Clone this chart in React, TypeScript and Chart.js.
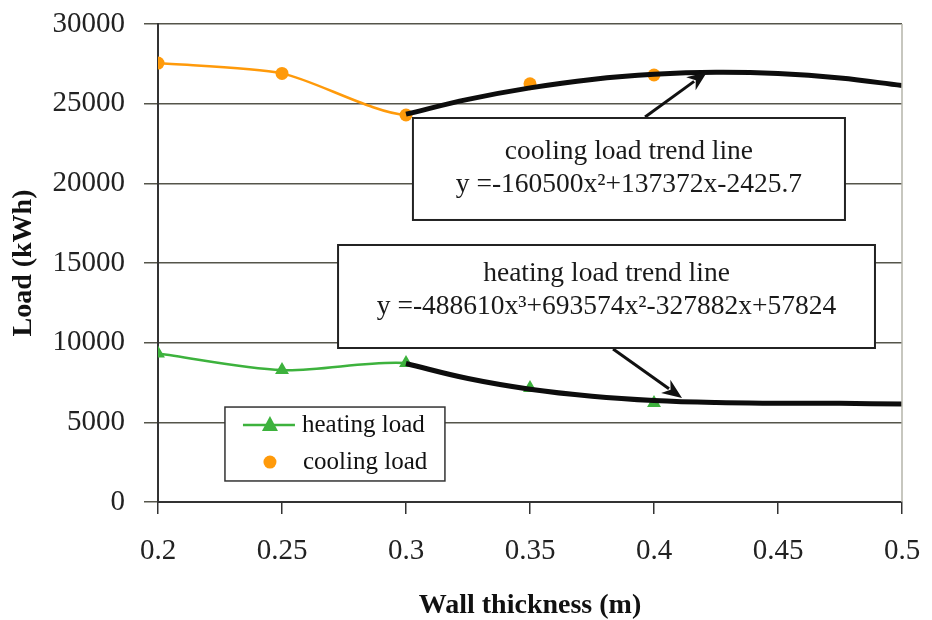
import React, { useEffect, useRef } from "react";
import { Chart, registerables } from "chart.js";

Chart.register(...registerables);

// ---- data ----
const thickness = [0.2, 0.25, 0.3, 0.35, 0.4];
const heatingLoad = [9320, 8280, 8720, 7150, 6220];
const coolingLoad = [27550, 26900, 24290, 26250, 26800];

const trendX = [0.3, 0.325, 0.35, 0.375, 0.4, 0.425, 0.45, 0.475, 0.5];
const coolingTrend = [24340, 25270, 25990, 26520, 26840, 26970, 26890, 26610, 26140];
const heatingTrend = [8690, 7750, 7080, 6640, 6370, 6240, 6200, 6190, 6150];

const xTicks = [0.2, 0.25, 0.3, 0.35, 0.4, 0.45, 0.5];
const yTicks = [0, 5000, 10000, 15000, 20000, 25000, 30000];

const legendLabels = ["heating load", "cooling load"];
const coolingNote = ["cooling load trend line", "y =-160500x²+137372x-2425.7"];
const heatingNote = ["heating load trend line", "y =-488610x³+693574x²-327882x+57824"];

const xTitle = "Wall thickness (m)";
const yTitle = "Load (kWh)";
// data lines are only visible up to this thickness (beyond it the trend line covers them)
const lineEnd = 0.3;

const ORANGE = "#FF9A0A";
const GREEN = "#3DB23D";
const FONT = '"Liberation Serif", "Times New Roman", serif';

function drawArrow(ctx: CanvasRenderingContext2D, x1: number, y1: number, x2: number, y2: number) {
  const ang = Math.atan2(y2 - y1, x2 - x1);
  const headLen = 20;
  const headW = 8;
  const bx = x2 - headLen * Math.cos(ang);
  const by = y2 - headLen * Math.sin(ang);
  ctx.save();
  ctx.strokeStyle = "#111";
  ctx.fillStyle = "#111";
  ctx.lineWidth = 3;
  ctx.beginPath();
  ctx.moveTo(x1, y1);
  ctx.lineTo(bx + 4 * Math.cos(ang), by + 4 * Math.sin(ang));
  ctx.stroke();
  ctx.beginPath();
  ctx.moveTo(x2, y2);
  ctx.lineTo(bx + headW * Math.sin(ang), by - headW * Math.cos(ang));
  ctx.lineTo(bx + 6 * Math.cos(ang), by + 6 * Math.sin(ang));
  ctx.lineTo(bx - headW * Math.sin(ang), by + headW * Math.cos(ang));
  ctx.closePath();
  ctx.fill();
  ctx.restore();
}

function drawNote(
  ctx: CanvasRenderingContext2D,
  left: number, top: number, right: number, bottom: number,
  lines: string[], y1: number, y2: number
) {
  ctx.save();
  ctx.fillStyle = "#fff";
  ctx.fillRect(left, top, right - left, bottom - top);
  ctx.strokeStyle = "#222";
  ctx.lineWidth = 2;
  ctx.strokeRect(left, top, right - left, bottom - top);
  ctx.fillStyle = "#1a1a1a";
  ctx.font = `27.5px ${FONT}`;
  ctx.textAlign = "center";
  ctx.textBaseline = "middle";
  const cx = (left + right) / 2;
  ctx.fillText(lines[0], cx, y1);
  ctx.fillText(lines[1], cx, y2);
  ctx.restore();
}

const overlayPlugin = {
  id: "overlay",
  afterDraw(chart: any) {
    const { ctx, chartArea, scales } = chart;
    const x = scales.x;
    const y = scales.y;
    const px = (v: number) => x.getPixelForValue(v);
    const py = (v: number) => y.getPixelForValue(v);

    // plot-area right border
    ctx.save();
    ctx.strokeStyle = "#b5b5aa";
    ctx.lineWidth = 1.5;
    ctx.beginPath();
    ctx.moveTo(chartArea.right, chartArea.top);
    ctx.lineTo(chartArea.right, chartArea.bottom);
    ctx.stroke();
    ctx.restore();

    // cooling note + arrow
    drawArrow(ctx, px(0.3964), py(24160), px(0.4214), py(26990));
    drawNote(ctx, px(0.3028), py(24100), px(0.477), py(17700), coolingNote, py(22000), py(19930));

    // heating note + arrow
    drawArrow(ctx, px(0.3835), py(9600), px(0.4113), py(6530));
    drawNote(ctx, px(0.2726), py(16130), px(0.4891), py(9665), heatingNote, py(14300), py(12230));

    // legend
    const lx = px(0.227);
    const ly = py(5960);
    const lr = px(0.3157);
    const lb = py(1320);
    ctx.save();
    ctx.fillStyle = "#fff";
    ctx.fillRect(lx, ly, lr - lx, lb - ly);
    ctx.strokeStyle = "#333";
    ctx.lineWidth = 1.5;
    ctx.strokeRect(lx, ly, lr - lx, lb - ly);

    const r1 = ly + 18;
    const r2 = ly + 55;
    ctx.strokeStyle = GREEN;
    ctx.lineWidth = 2.5;
    ctx.beginPath();
    ctx.moveTo(lx + 18, r1);
    ctx.lineTo(lx + 70, r1);
    ctx.stroke();
    ctx.fillStyle = GREEN;
    ctx.beginPath();
    ctx.moveTo(lx + 45, r1 - 9);
    ctx.lineTo(lx + 53, r1 + 6);
    ctx.lineTo(lx + 37, r1 + 6);
    ctx.closePath();
    ctx.fill();
    ctx.fillStyle = ORANGE;
    ctx.beginPath();
    ctx.arc(lx + 45, r2, 6.5, 0, Math.PI * 2);
    ctx.fill();

    ctx.fillStyle = "#111";
    ctx.font = `25px ${FONT}`;
    ctx.textAlign = "left";
    ctx.textBaseline = "middle";
    ctx.fillText(legendLabels[0], lx + 77, r1);
    ctx.fillText(legendLabels[1], lx + 78, r2);
    ctx.restore();
  },
};

export default function App() {
  const ref = useRef<HTMLCanvasElement | null>(null);

  useEffect(() => {
    if (!ref.current) return;
    const chart = new Chart(ref.current, {
      type: "line",
      data: {
        datasets: [
          {
            label: "cooling trend",
            data: trendX.map((v, i) => ({ x: v, y: coolingTrend[i] })),
            borderColor: "#0d0d0d",
            borderWidth: 5,
            pointRadius: 0,
            tension: 0.4,
            fill: false,
          },
          {
            label: "heating trend",
            data: trendX.map((v, i) => ({ x: v, y: heatingTrend[i] })),
            borderColor: "#0d0d0d",
            borderWidth: 5,
            pointRadius: 0,
            tension: 0.4,
            fill: false,
          },
          {
            label: legendLabels[0],
            data: thickness.map((v, i) => ({ x: v, y: heatingLoad[i] })),
            borderColor: GREEN,
            backgroundColor: GREEN,
            borderWidth: 2.5,
            pointStyle: "triangle",
            pointRadius: 8,
            pointBorderWidth: 0,
            tension: 0.3,
            fill: false,
            segment: {
              borderColor: (c: any) => (c.p0.parsed.x >= lineEnd ? "rgba(0,0,0,0)" : GREEN),
            },
          },
          {
            label: legendLabels[1],
            data: thickness.map((v, i) => ({ x: v, y: coolingLoad[i] })),
            borderColor: ORANGE,
            backgroundColor: ORANGE,
            borderWidth: 2.5,
            pointStyle: "circle",
            pointRadius: 6.5,
            pointBorderWidth: 0,
            tension: 0.25,
            fill: false,
            segment: {
              borderColor: (c: any) => (c.p0.parsed.x >= lineEnd ? "rgba(0,0,0,0)" : ORANGE),
            },
          },
        ],
      },
      options: {
        responsive: false,
        animation: false,
        layout: { padding: { top: 24, right: 30, bottom: 0, left: 0 } },
        plugins: { legend: { display: false }, tooltip: { enabled: false } },
        scales: {
          x: {
            type: "linear",
            min: 0.2,
            max: 0.5,
            afterBuildTicks: (s: any) => {
              s.ticks = xTicks.map((v) => ({ value: v }));
            },
            afterFit: (s: any) => {
              s.height = 118;
              s.paddingLeft = 0;
              s.paddingRight = 0;
            },
            grid: {
              drawOnChartArea: false,
              drawTicks: true,
              tickLength: 12,
              color: "#333",
              lineWidth: 1.5,
            },
            border: { display: true, color: "#333", width: 2 },
            ticks: {
              font: { family: FONT, size: 29 },
              color: "#222",
              padding: 20,
              maxRotation: 0,
              autoSkip: false,
              callback: (v: any) => String(v),
            },
            title: {
              display: true,
              text: xTitle,
              font: { family: FONT, size: 28, weight: "bold", lineHeight: 1.0 },
              color: "#111",
              padding: { top: 0, bottom: 0 },
            },
          },
          y: {
            min: 0,
            max: 30000,
            afterBuildTicks: (s: any) => {
              s.ticks = yTicks.map((v) => ({ value: v }));
            },
            afterFit: (s: any) => {
              s.width = 158;
              s.paddingTop = 0;
              s.paddingBottom = 0;
            },
            grid: {
              color: "#55554a",
              lineWidth: 1.5,
              tickLength: 14,
            },
            border: { display: true, color: "#333", width: 2 },
            ticks: {
              font: { family: FONT, size: 29 },
              color: "#222",
              padding: 19,
              callback: (v: any) => String(v),
            },
            title: {
              display: true,
              text: yTitle,
              font: { family: FONT, size: 28, weight: "bold" },
              color: "#111",
              padding: { top: 7, bottom: 0 },
            },
          },
        },
      },
      plugins: [overlayPlugin],
    } as any);
    return () => chart.destroy();
  }, []);

  return (
    <div style={{ position: "fixed", left: 0, top: 0, width: 932, height: 620, background: "#fff" }}>
      <canvas ref={ref} width={932} height={620} style={{ width: 932, height: 620 }} />
    </div>
  );
}
